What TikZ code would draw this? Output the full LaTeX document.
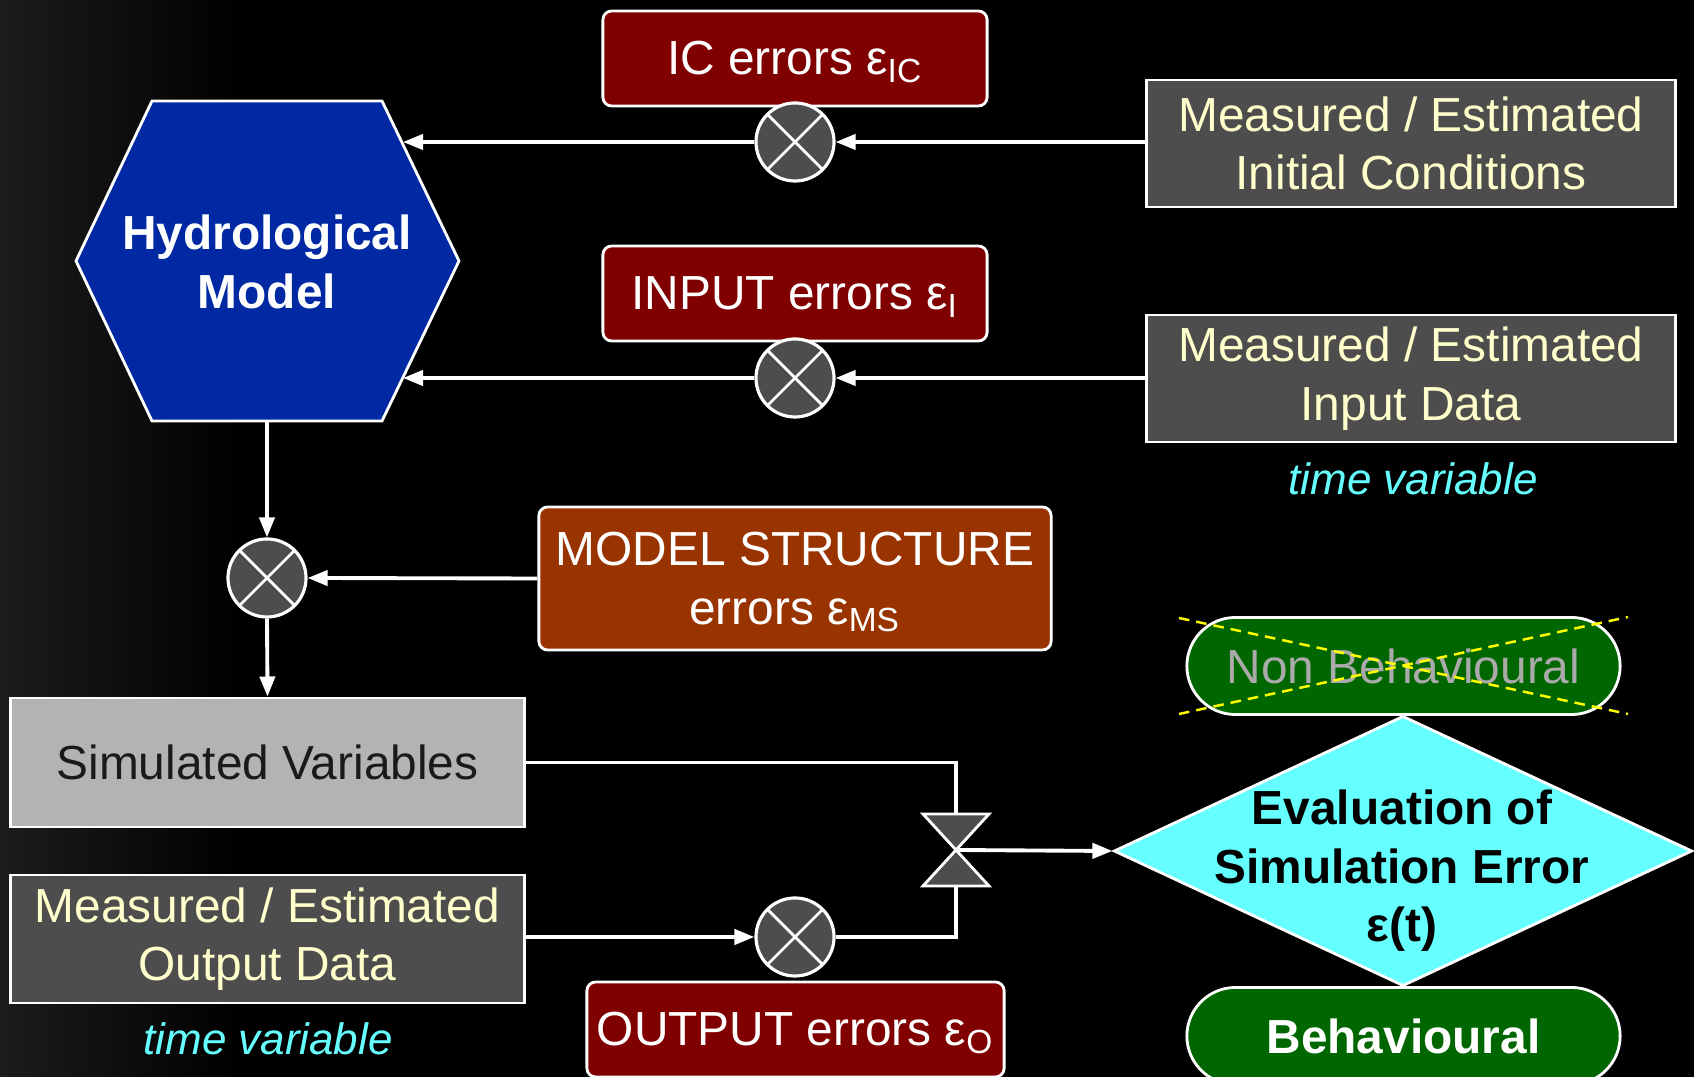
\documentclass[tikz,border=0pt]{standalone}
\usepackage{fontspec}
\setmainfont{Liberation Sans}
\usetikzlibrary{arrows.meta,shapes.geometric}

\definecolor{HMblau}{HTML}{0029A3}
\definecolor{ERRrot}{HTML}{800000}
\definecolor{MSbraun}{HTML}{993300}
\definecolor{DATAgrau}{HTML}{4D4D4D}
\definecolor{DATAgelb}{HTML}{FFFFCC}
\definecolor{SIMgrau}{HTML}{B3B3B3}
\definecolor{SIMtext}{HTML}{1A1A1A}
\definecolor{EVALcyan}{HTML}{66FFFF}
\definecolor{BEHgruen}{HTML}{006600}
\definecolor{NONBgrau}{HTML}{AAAAAA}
\definecolor{BGgrau}{HTML}{1C1C1C}
\definecolor{KREUZgelb}{HTML}{FFFF00}

\newcommand{\basefont}{\fontsize{13.6pt}{16.6pt}\selectfont}
\newcommand{\epsub}[1]{ε\smash{\textsubscript{#1}}}
\newcommand{\hourglass}[1]{%
  \filldraw[draw=white, line width=0.8pt, fill=DATAgrau]
  (#1) -- ++(-33,-36) -- ++(66,0) -- cycle;
  \filldraw[draw=white, line width=0.8pt, fill=DATAgrau]
  (#1) -- ++(-33,36) -- ++(66,0) -- cycle;}

\tikzset{
  errbox/.style={draw=white, line width=0.8pt, rounded corners=2.5pt,
    fill=ERRrot, text=white, minimum width=3.84cm, minimum height=0.95cm,
    inner sep=0pt, align=center, font=\basefont},
  databox/.style={draw=white, line width=0.8pt, fill=DATAgrau,
    text=DATAgelb, minimum width=5.28cm, minimum height=1.27cm,
    inner sep=0pt, align=center, font=\basefont},
  sumjunc/.style={circle, draw=white, line width=0.9pt, fill=DATAgrau,
    minimum size=0.78cm, inner sep=0pt,
    path picture={\draw[white, line width=0.8pt]
      (path picture bounding box.north west) -- (path picture bounding box.south east)
      (path picture bounding box.north east) -- (path picture bounding box.south west);}},
  tvlabel/.style={text=EVALcyan, font=\fontsize{12.5pt}{15pt}\selectfont\itshape},
  pill/.style={draw=white, line width=0.8pt, rounded corners=0.485cm,
    minimum width=4.33cm, minimum height=0.97cm, inner sep=0pt,
    fill=BEHgruen, font=\basefont},
  flow/.style={draw=white, line width=1.1pt,
    -{Triangle[length=5.7pt,width=4.3pt]}},
  link/.style={draw=white, line width=1.1pt},
}

\begin{document}
\begin{tikzpicture}[x=0.01cm, y=-0.01cm]

  \useasboundingbox (0,0) rectangle (1694,1077);
  \clip (0,0) rectangle (1694,1077);

  % background
  \fill[black] (0,0) rectangle (1694,1077);
  \shade[left color=BGgrau, right color=black] (0,0) rectangle (240,1077);

  % the model
  \filldraw[draw=white, line width=0.8pt, fill=HMblau]
  (152,101) -- (382,101) -- (459,261) -- (382,421) -- (152,421) -- (76,261) -- cycle;
  \node[text=white, font=\basefont\bfseries, align=center] (hydro) at (267,262)
    {Hydrological\\Model};
  \coordinate (hydroic) at (403,142);
  \coordinate (hydroin) at (403,378);
  \coordinate (hydroout) at (267,421);

  % error sources
  \node[errbox] (icerr) at (795,58.5) {IC errors \epsub{IC}};
  \node[errbox] (inerr) at (795,293.5) {INPUT errors \epsub{I}};
  \node[errbox, fill=MSbraun, minimum width=5.12cm, minimum height=1.43cm]
    (mserr) at (795,578.5) {MODEL STRUCTURE\\errors \epsub{MS}};
  \node[errbox, minimum width=4.17cm] (outerr) at (795.5,1029.5)
    {OUTPUT errors \epsub{O}};

  % data
  \node[databox] (mic) at (1411,143.5) {Measured / Estimated\\Initial Conditions};
  \node[databox] (min) at (1411,378.5) {Measured / Estimated\\Input Data};
  \node[tvlabel] (tvin) at (1413,479) {time variable};
  \node[databox, fill=SIMgrau, text=SIMtext, minimum width=5.13cm, minimum height=1.29cm]
    (sim) at (267.5,762.5) {Simulated Variables};
  \node[databox, minimum width=5.13cm, minimum height=1.28cm]
    (mout) at (267.5,939) {Measured / Estimated\\Output Data};
  \node[tvlabel] (tvout) at (268,1039) {time variable};

  % draw the circles
  \node[sumjunc] (sic) at (795,142) {};
  \node[sumjunc] (sin) at (795,378) {};
  \node[sumjunc] (sms) at (267,578) {};
  \node[sumjunc] (sout) at (795,937) {};

  % comparison
  \hourglass{956,850}
  \coordinate (cmp) at (956,850);
  \coordinate (cmptop) at (956,814);
  \coordinate (cmpbot) at (956,886);

  % evaluation
  \node[diamond, draw=white, line width=0.8pt, fill=EVALcyan,
    minimum width=5.78cm, minimum height=2.70cm, inner sep=0pt] (eval) at (1403,851) {};
  \node[font=\basefont\bfseries, align=center, text=black] (evaltxt) at (1402,871)
    {Evaluation of\\Simulation Error\\ε(t)};
  \node[pill, text=NONBgrau] (nonb) at (1403.5,666) {Non Behavioural};
  \draw[KREUZgelb, line width=0.7pt, dash pattern=on 3pt off 2pt]
  (1179,618) -- (1628,714) (1179,714) -- (1628,617);
  \node[pill, text=white, font=\basefont\bfseries] (beh) at (1403.5,1036) {Behavioural};

  % connectors
  \draw[flow] (mic.west |- sic.east) -- (sic.east);
  \draw[flow] (sic.west) -- (hydroic);
  \draw[flow] (min.west |- sin.east) -- (sin.east);
  \draw[flow] (sin.west) -- (hydroin);
  \draw[flow] (hydroout) -- (sms.north);
  \draw[flow] (mserr.west) -- (sms.east);
  \draw[flow] (sms.south) -- (sim.north);
  \draw[link] (sim.east) -| (cmptop);
  \draw[flow] (mout.east |- sout.west) -- (sout.west);
  \draw[link] (sout.east) -| (cmpbot);
  \draw[flow] (cmp) -- (eval.west);

\end{tikzpicture}
\end{document}
